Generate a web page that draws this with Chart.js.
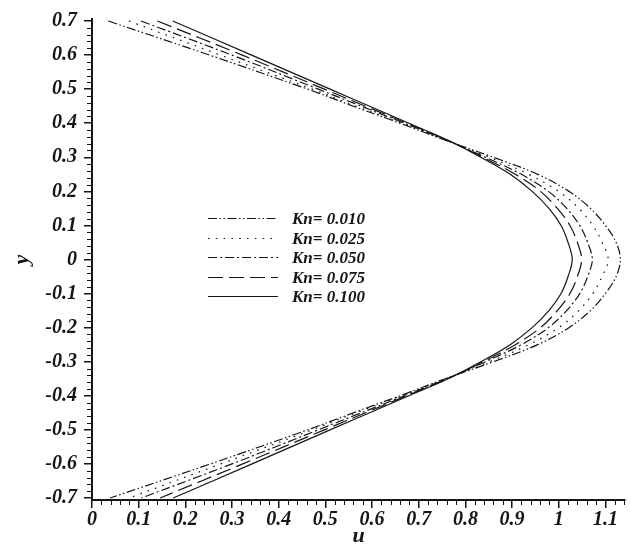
<!DOCTYPE html>
<html>
<head>
<meta charset="utf-8">
<script src="https://cdn.jsdelivr.net/npm/chart.js@4.4.0/dist/chart.umd.min.js"></script>
<style>
  html, body { margin: 0; padding: 0; background: #fff; }
  #wrap { width: 631px; height: 546px; }
</style>
</head>
<body>
<div id="wrap"><canvas id="profileChart" width="631" height="546"></canvas></div>
<script>
// y positions across the channel (top wall to bottom wall)
const yValues = [0.7, 0.6, 0.5, 0.45, 0.4, 0.35, 0.3, 0.25, 0.2, 0.15, 0.1, 0.05, 0,
                 -0.05, -0.1, -0.15, -0.2, -0.25, -0.3, -0.35, -0.4, -0.45, -0.5, -0.6, -0.7];

// velocity u, one list per Knudsen number
const uKn010 = [0.035, 0.252, 0.462, 0.560, 0.660, 0.757, 0.860, 0.955, 1.022, 1.068, 1.100, 1.123, 1.132,
                1.123, 1.100, 1.068, 1.022, 0.955, 0.860, 0.757, 0.660, 0.560, 0.462, 0.254, 0.039];
const uKn025 = [0.079, 0.275, 0.472, 0.566, 0.663, 0.759, 0.852, 0.936, 1.000, 1.043, 1.073, 1.093, 1.106,
                1.093, 1.073, 1.043, 1.000, 0.936, 0.852, 0.759, 0.663, 0.566, 0.472, 0.276, 0.080];
const uKn050 = [0.105, 0.300, 0.485, 0.577, 0.669, 0.760, 0.843, 0.920, 0.978, 1.017, 1.045, 1.062, 1.072,
                1.062, 1.045, 1.017, 0.978, 0.920, 0.843, 0.760, 0.669, 0.577, 0.485, 0.300, 0.106];
const uKn075 = [0.140, 0.322, 0.498, 0.586, 0.674, 0.762, 0.838, 0.907, 0.961, 0.997, 1.024, 1.040, 1.049,
                1.040, 1.024, 0.997, 0.961, 0.907, 0.838, 0.762, 0.674, 0.586, 0.498, 0.323, 0.146];
const uKn100 = [0.173, 0.342, 0.510, 0.595, 0.679, 0.763, 0.833, 0.896, 0.943, 0.979, 1.005, 1.020, 1.029,
                1.020, 1.005, 0.979, 0.943, 0.896, 0.833, 0.763, 0.679, 0.595, 0.510, 0.343, 0.174];

const seriesNames = ['Kn= 0.010', 'Kn= 0.025', 'Kn= 0.050', 'Kn= 0.075', 'Kn= 0.100'];

// tick values and labels
const xTicks = [0, 0.1, 0.2, 0.3, 0.4, 0.5, 0.6, 0.7, 0.8, 0.9, 1, 1.1];
const xTickLabels = ['0', '0.1', '0.2', '0.3', '0.4', '0.5', '0.6', '0.7', '0.8', '0.9', '1', '1.1'];
const yTicks = [-0.7, -0.6, -0.5, -0.4, -0.3, -0.2, -0.1, 0, 0.1, 0.2, 0.3, 0.4, 0.5, 0.6, 0.7];
const yTickLabels = ['-0.7', '-0.6', '-0.5', '-0.4', '-0.3', '-0.2', '-0.1', '0',
                     '0.1', '0.2', '0.3', '0.4', '0.5', '0.6', '0.7'];

const ink = '#151515';
const dashes = [[9, 2.5, 1.5, 2.5, 1.5, 2.5], [1.6, 6.2], [9, 3, 2, 3], [15, 6], []];
const seriesU = [uKn010, uKn025, uKn050, uKn075, uKn100];

const datasets = seriesU.map((u, i) => ({
    label: seriesNames[i],
    data: u.map((v, k) => ({ x: v, y: yValues[k] })),
    showLine: true,
    borderColor: ink,
    borderWidth: 1.2,
    borderDash: dashes[i],
    pointRadius: 0,
    tension: 0.35,
    fill: false
}));

const tickFont = { family: 'Liberation Serif', size: 20, style: 'italic', weight: 'bold' };
const titleFont = { family: 'Liberation Serif', size: 22, style: 'italic', weight: 'bold', lineHeight: 1 };

// minor ticks on the axes + the in-plot legend
const extras = {
    id: 'extras',
    afterDraw(chart) {
        const ctx = chart.ctx;
        const xs = chart.scales.x, ys = chart.scales.y;
        ctx.save();
        ctx.strokeStyle = ink;
        ctx.lineWidth = 1;
        ctx.beginPath();
        for (let i = 0; i <= 57; i++) {
            if (i % 5 === 0) continue;
            const px = Math.round(xs.getPixelForValue(i * 0.02)) + 0.5;
            ctx.moveTo(px, ys.bottom);
            ctx.lineTo(px, ys.bottom + 5);
        }
        for (let i = -35; i <= 35; i++) {
            if (i % 5 === 0) continue;
            const py = Math.round(ys.getPixelForValue(i * 0.02)) + 0.5;
            ctx.moveTo(xs.left, py);
            ctx.lineTo(xs.left - 5, py);
        }
        ctx.stroke();

        // legend
        const x0 = 208, x1 = 278, rowTop = 218, rowGap = 19.5;
        ctx.font = 'italic bold 17px "Liberation Serif"';
        ctx.fillStyle = ink;
        ctx.textBaseline = 'middle';
        chart.data.datasets.forEach((ds, i) => {
            const y = Math.round(rowTop + i * rowGap) + 0.5;
            ctx.setLineDash(ds.borderDash);
            ctx.lineWidth = 1.2;
            ctx.beginPath();
            ctx.moveTo(x0, y);
            ctx.lineTo(x1, y);
            ctx.stroke();
            ctx.setLineDash([]);
            ctx.fillText(ds.label, 292, y + 1);
        });
        ctx.restore();
    }
};

new Chart(document.getElementById('profileChart').getContext('2d'), {
    type: 'scatter',
    data: { datasets: datasets },
    plugins: [extras],
    options: {
        responsive: false,
        animation: false,
        layout: { padding: { left: 0, right: 6, top: 15, bottom: 0 } },
        plugins: {
            legend: { display: false },
            tooltip: { enabled: false }
        },
        scales: {
            x: {
                type: 'linear',
                min: 0,
                max: 1.142,
                afterBuildTicks: s => { s.ticks = xTicks.map(v => ({ value: v })); },
                afterFit: s => { s.height = 46; },
                border: { display: true, color: ink, width: 2 },
                grid: { drawOnChartArea: false, drawTicks: true, tickLength: 8, color: ink, lineWidth: 1.5 },
                ticks: {
                    color: ink,
                    font: tickFont,
                    padding: 0,
                    maxRotation: 0,
                    autoSkip: false,
                    callback: (v, i) => xTickLabels[i]
                },
                title: {
                    display: true,
                    text: 'u',
                    color: ink,
                    font: titleFont,
                    padding: { top: 0, bottom: -1 }
                }
            },
            y: {
                type: 'linear',
                min: -0.706,
                max: 0.706,
                afterBuildTicks: s => { s.ticks = yTicks.map(v => ({ value: v })); },
                afterFit: s => { s.width = 92; },
                border: { display: true, color: ink, width: 2 },
                grid: { drawOnChartArea: false, drawTicks: true, tickLength: 8, color: ink, lineWidth: 1.5 },
                ticks: {
                    color: ink,
                    font: tickFont,
                    padding: 7,
                    autoSkip: false,
                    callback: (v, i) => yTickLabels[i]
                },
                title: {
                    display: true,
                    text: 'y',
                    color: ink,
                    font: titleFont,
                    padding: { top: 11, bottom: 0 }
                }
            }
        }
    }
});
</script>
</body>
</html>
